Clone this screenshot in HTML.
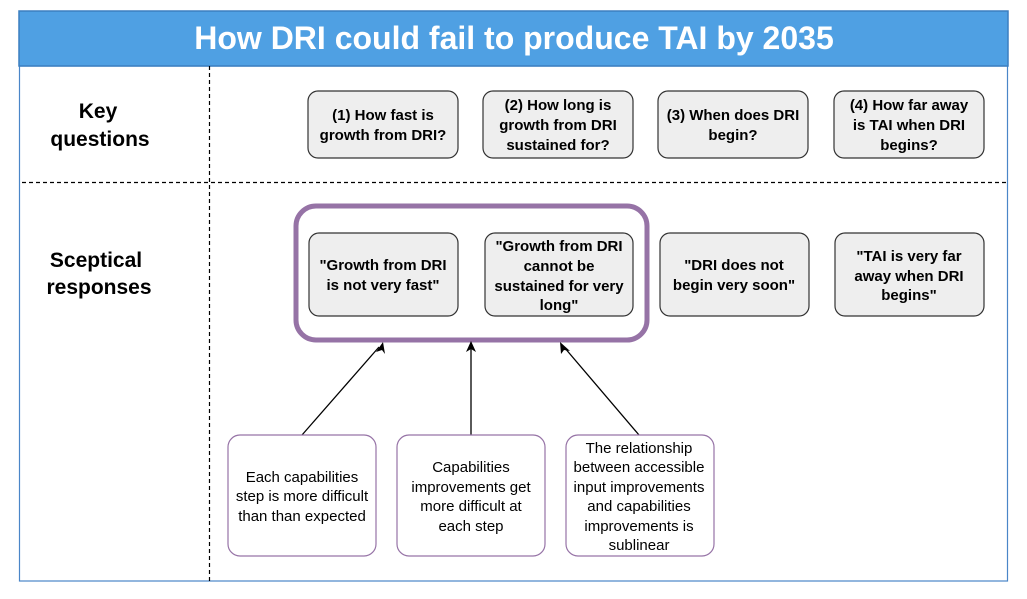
<!DOCTYPE html>
<html><head><style>
body{margin:0;background:#fff;font-family:"Liberation Sans",Arial,sans-serif;}
</style></head><body>
<svg width="1027" height="594" xmlns="http://www.w3.org/2000/svg" font-family="Liberation Sans, Arial, sans-serif">
<rect x="0" y="0" width="1027" height="594" fill="#fff"/>
<rect x="19.5" y="66" width="988" height="515" fill="none" stroke="#4a86c8" stroke-width="1.2"/>
<rect x="19" y="11" width="989" height="55" fill="#4FA0E3" stroke="#3b7fc0" stroke-width="1.5"/>
<text x="514" y="49" font-size="32" font-weight="bold" fill="#fff" text-anchor="middle">How DRI could fail to produce TAI by 2035</text>
<line x1="209.5" y1="66" x2="209.5" y2="581" stroke="#000" stroke-dasharray="4,3" stroke-width="1.2"/>
<line x1="22" y1="182.5" x2="1008" y2="182.5" stroke="#000" stroke-dasharray="4,3" stroke-width="1.2"/>
<g font-size="21" font-weight="bold" text-anchor="middle" fill="#000">
<text x="98" y="118">Key</text><text x="100" y="146">questions</text>
<text x="96" y="267">Sceptical</text><text x="99" y="294">responses</text>
</g>
<g fill="#eeeeee" stroke="#333" stroke-width="1.2">
<rect x="308" y="91" width="150" height="67" rx="10"/>
<rect x="483" y="91" width="150" height="67" rx="10"/>
<rect x="658" y="91" width="150" height="67" rx="10"/>
<rect x="834" y="91" width="150" height="67" rx="10"/>
<rect x="309" y="233" width="149" height="83" rx="10"/>
<rect x="485" y="233" width="148" height="83" rx="10"/>
<rect x="660" y="233" width="149" height="83" rx="10"/>
<rect x="835" y="233" width="149" height="83" rx="10"/>
</g>
<g font-size="15" font-weight="bold" text-anchor="middle" fill="#000">
<text x="383" y="120">(1) How fast is</text><text x="383" y="140">growth from DRI?</text>
<text x="558" y="110">(2) How long is</text><text x="558" y="130">growth from DRI</text><text x="558" y="150">sustained for?</text>
<text x="733" y="120">(3) When does DRI</text><text x="733" y="140">begin?</text>
<text x="909" y="110">(4) How far away</text><text x="909" y="130">is TAI when DRI</text><text x="909" y="150">begins?</text>
<text x="383" y="270">"Growth from DRI</text><text x="383" y="290">is not very fast"</text>
<text x="559" y="251">"Growth from DRI</text><text x="559" y="271">cannot be</text><text x="559" y="291">sustained for very</text><text x="559" y="310">long"</text>
<text x="734" y="270">"DRI does not</text><text x="734" y="290">begin very soon"</text>
<text x="909" y="261">"TAI is very far</text><text x="909" y="281">away when DRI</text><text x="909" y="300">begins"</text>
</g>
<rect x="296" y="206" width="351" height="134" rx="20" fill="none" stroke="#9673A6" stroke-width="5"/>
<g stroke="#000" stroke-width="1.3">
<line x1="302" y1="435" x2="379" y2="347"/>
<line x1="471" y1="435" x2="471" y2="348"/>
<line x1="639" y1="435" x2="564" y2="347"/>
</g>
<g fill="#000">
<polygon points="383,342 376,352 382,350 385,354"/>
<polygon points="471,341 466,352 471,349 476,352"/>
<polygon points="560,342 561,354 564,350 570,351"/>
</g>
<g fill="#fff" stroke="#9673A6" stroke-width="1.2">
<rect x="228" y="435" width="148" height="121" rx="12"/>
<rect x="397" y="435" width="148" height="121" rx="12"/>
<rect x="566" y="435" width="148" height="121" rx="12"/>
</g>
<g font-size="15" text-anchor="middle" fill="#000">
<text x="302" y="482">Each capabilities</text><text x="302" y="501">step is more difficult</text><text x="302" y="521">than than expected</text>
<text x="471" y="472">Capabilities</text><text x="471" y="492">improvements get</text><text x="471" y="511">more difficult at</text><text x="471" y="531">each step</text>
<text x="639" y="453">The relationship</text><text x="639" y="472">between accessible</text><text x="639" y="492">input improvements</text><text x="639" y="511">and capabilities</text><text x="639" y="531">improvements is</text><text x="639" y="550">sublinear</text>
</g>
</svg>
</body></html>
